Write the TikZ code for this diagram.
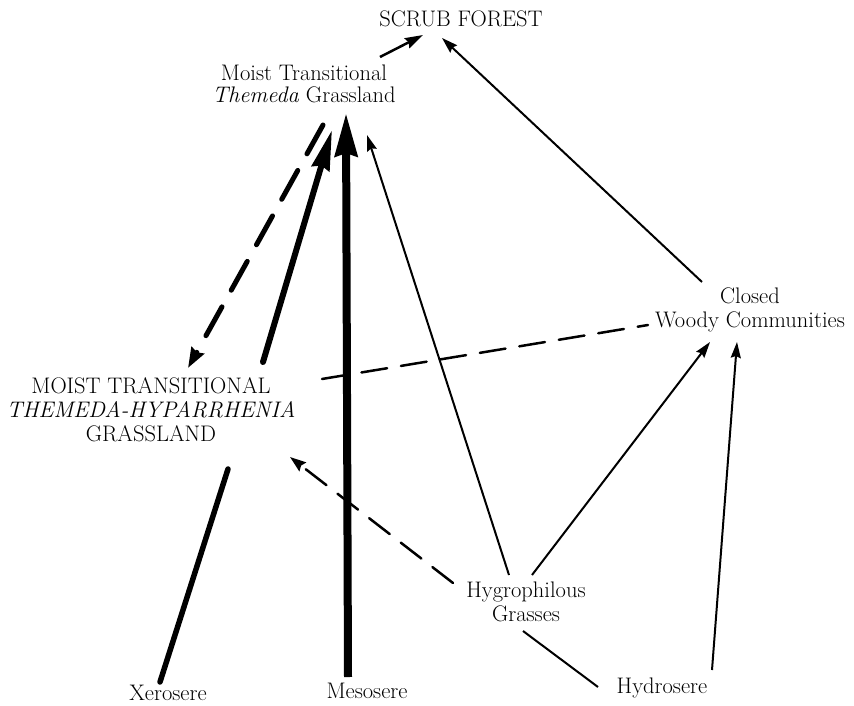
\documentclass[tikz,border=0pt]{standalone}
\usepackage{tikz}
\usetikzlibrary{arrows.meta, calc}
\tikzset{
  community/.style={align=center, inner sep=0pt, font=\fontsize{22.5}{24}\selectfont},
  minor/.style={line width=2pt, -{Stealth[length=16pt, width=10pt, inset=2pt]}},
  plainline/.style={line width=2pt},
  medium/.style={line width=2.5pt, -{Stealth[length=18pt, width=11pt, inset=2pt]}},
  major/.style={line width=6pt, line cap=round, -{Stealth[length=40pt, width=18pt, inset=3pt]}},
  principal/.style={line width=8pt, -{Stealth[length=43pt, width=22pt, inset=3pt]}},
  heavyline/.style={line width=5.5pt, line cap=round},
  weakdash/.style={line width=2.5pt, line cap=round, dash pattern=on 26pt off 14pt},
  strongdash/.style={line width=5pt, line cap=round, dash pattern=on 33pt off 19pt,
    -{Stealth[length=20pt, width=14pt, inset=2pt]}}
}
\begin{document}
\begin{tikzpicture}[x=1pt, y=-1pt]
  \useasboundingbox (0,0) rectangle (854,706);

  % Communities
  \node[community] (scrub) at (461,19) {SCRUB FOREST};
  \node[community, font=\fontsize{22.5}{22.5}\selectfont] (themeda) at (304,84)
    {Moist Transitional\\\textit{Themeda} Grassland};
  \node[community] (mtth) at (151,410)
    {MOIST TRANSITIONAL\\\textit{THEMEDA-HYPARRHENIA}\\GRASSLAND};
  \node[community] (closed) at (750,310) {Closed\\Woody Communities};
  \node[community] (hygro) at (526,602) {Hygrophilous\\Grasses};

  % Seres
  \node[community] (xero) at (168,693) {Xerosere};
  \node[community] (meso) at (367,691) {Mesosere};
  \node[community] (hydro) at (662,688) {Hydrosere};

  % To scrub forest
  \draw[medium] ($(themeda)+(76,-27)$) -- ($(scrub)+(-38,16)$);
  \draw[minor] ($(closed)+(-48,-28)$) -- ($(scrub)+(-19,19)$);

  % Between the grasslands
  \draw[strongdash] ($(themeda)+(19,41)$) -- ($(mtth)+(37,-42)$);
  \draw[major] ($(mtth)+(112,-48)$) -- ($(themeda)+(28,46)$);
  \draw[weakdash] ($(mtth)+(171,-31)$) -- ($(closed)+(-102,15)$);

  % From the seres
  \draw[principal] ($(meso)+(-19,-14)$) -- ($(themeda)+(42,29)$);
  \draw[heavyline] ($(xero)+(-8,-11)$) -- ($(mtth)+(77,59)$);
  \draw[minor] ($(hydro)+(50,-18)$) -- ($(closed)+(-13,32)$);
  \draw[plainline] ($(hygro)+(-3,29)$) -- ($(hydro)+(-64,-1)$);

  % From hygrophilous grasses
  \draw[minor] ($(hygro)+(-17,-27)$) -- ($(themeda)+(63,51)$);
  \draw[minor] ($(hygro)+(6,-27)$) -- ($(closed)+(-40,32)$);
  \draw[weakdash, -{Stealth[length=16pt, width=11pt, inset=2pt]}]
    ($(hygro)+(-73,-19)$) -- ($(mtth)+(139,47)$);
\end{tikzpicture}
\end{document}
